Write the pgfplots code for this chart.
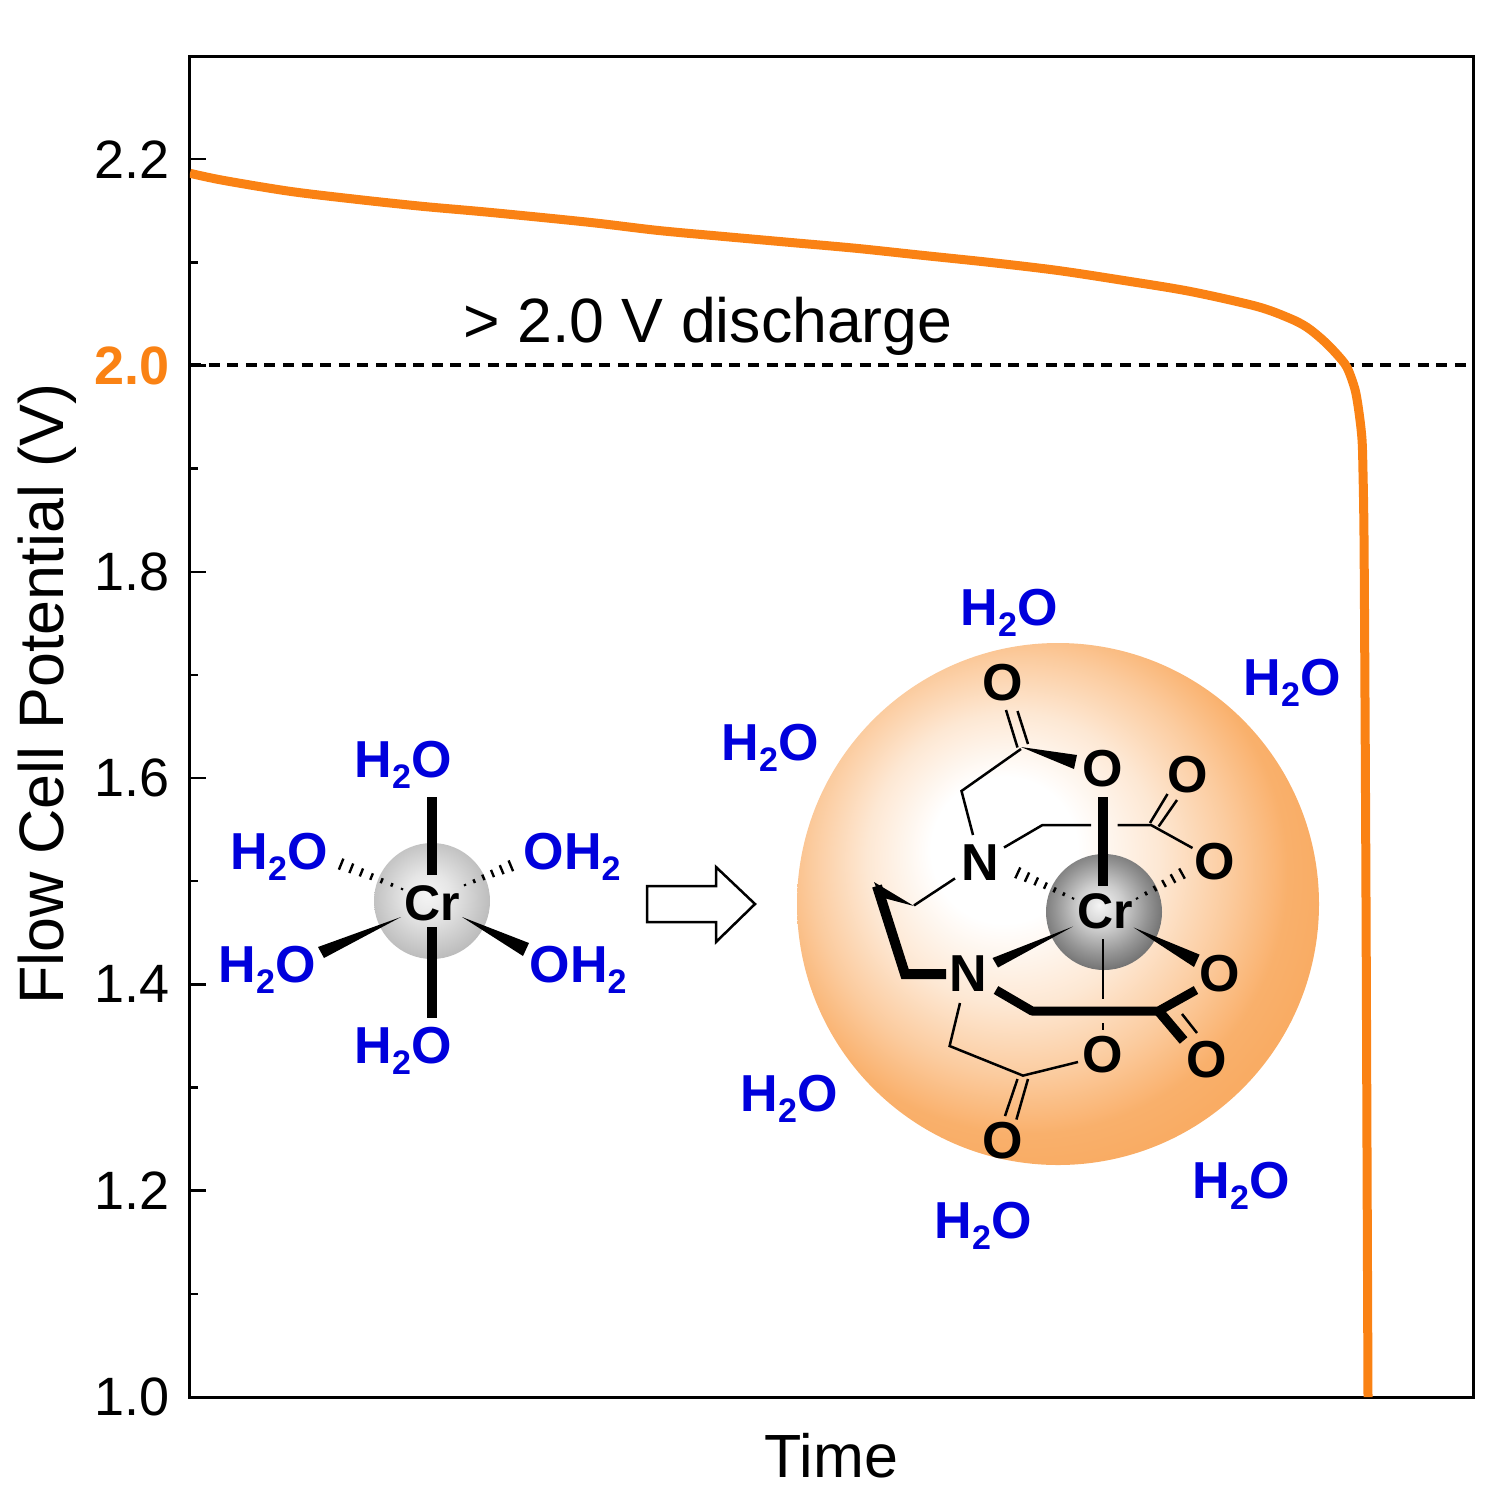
\documentclass[border=0pt]{standalone}
\usepackage{fontspec}
\usepackage{pgfplots}
\pgfplotsset{compat=1.18}
\usetikzlibrary{calc}
\setmainfont{Liberation Sans}

\definecolor{curve}{RGB}{250,130,20}
\definecolor{wat}{RGB}{0,0,220}
\definecolor{ballrim}{RGB}{249,172,100}

% shadings for the two kinds of sphere
\pgfdeclareradialshading{orangeball}{\pgfpoint{-6bp}{6bp}}{%
  color(0bp)=(white); color(7bp)=(white); color(14bp)=(ballrim!28!white);
  color(20bp)=(ballrim!62!white); color(25bp)=(ballrim!95!white); color(28bp)=(ballrim); color(50bp)=(ballrim)}
\pgfdeclareradialshading{lightball}{\pgfpoint{-2bp}{3bp}}{%
  color(0bp)=(white!96!black); color(10bp)=(white!90!black);
  color(20bp)=(white!80!black); color(28bp)=(white!72!black); color(50bp)=(white!72!black)}
\pgfdeclareradialshading{darkball}{\pgfpoint{-2bp}{3bp}}{%
  color(0bp)=(white!96!black); color(10bp)=(white!80!black);
  color(20bp)=(white!58!black); color(28bp)=(white!42!black); color(50bp)=(white!42!black)}

\newcommand{\water}{H\raisebox{-.22em}{\fontsize{17}{17}\selectfont 2}O}
\newcommand{\hydro}{OH\raisebox{-.22em}{\fontsize{17}{17}\selectfont 2}}
% narrow end, wide end, stripes, half width at the wide end (pt)
\newcommand{\hashbond}[6]{%
  \foreach \i in {0,...,#5}{%
    \pgfmathsetmacro{\tt}{\i/#5}%
    \pgfmathsetmacro{\ll}{#6*(0.15+0.85*\tt)}%
    \draw[line width=1.2pt,black] ($(#1,#2)!\tt!(#3,#4)!\ll pt!90:(#3,#4)$) -- ($(#1,#2)!\tt!(#3,#4)!\ll pt!-90:(#3,#4)$);
  }}

\pgfplotstableread{
x y
190 2.1863
223 2.1795
290 2.1688
357 2.1610
423 2.1542
490 2.1484
590 2.1387
657 2.1310
723 2.1251
790 2.1193
857 2.1135
923 2.1067
990 2.0999
1057 2.0922
1123 2.0825
1190 2.0718
1257 2.0572
1290 2.0456
1307 2.0370
1323 2.0245
1337 2.0107
1347 1.9981
1355 1.9767
1359 1.9544
1362 1.9282
1363 1.8962
1364 1.8341
1365 1.676
1366 1.482
1367 1.239
1368 1.000
}\dischargecurve

\begin{document}
\begin{tikzpicture}
\path[use as bounding box] (0,0) rectangle (750pt,-750pt);
\begin{axis}[
    at={(95pt,-698.5pt)}, anchor=south west,
    scale only axis, width=641.5pt, height=670.5pt,
    xmin=190, xmax=1473, ymin=1, ymax=2.3,
    axis line style={line width=1.5pt},
    xtick=\empty,
    ytick={1.0,1.2,1.4,1.6,1.8,2.0,2.2},
    yticklabels={1.0,1.2,1.4,1.6,1.8,\textbf{\textcolor{curve}{2.0}},2.2},
    minor y tick num=1,
    ytick pos=left, tick align=inside,
    major tick length=8pt, minor tick length=4pt,
    tick style={line width=1.25pt,black},
    yticklabel style={font=\fontsize{27}{27}\selectfont,xshift=-6.5pt},
    xlabel={Time}, ylabel={Flow Cell Potential (V)},
    xlabel style={font=\fontsize{30.5}{30.5}\selectfont,at={(axis description cs:0.5,-0.0597)},anchor=base},
    ylabel style={font=\fontsize{31.4}{31.4}\selectfont,at={(axis description cs:-0.0985,0.524)},anchor=base},
]
\addplot[black,line width=2pt,dash pattern=on 5.5pt off 3.8pt] coordinates {(190,2) (1473,2)};
\addplot[curve,line width=4.5pt,smooth,tension=0.5] table[x=x,y=y] {\dischargecurve};
\end{axis}

\begin{scope}[x=0.5pt,y=-0.5pt]
\node[font=\fontsize{31.3}{31.3}\selectfont,anchor=base,inner sep=0pt] at (708,342) {> 2.0 V discharge};

% aqua complex
\shade[shading=lightball] (432,901) circle (29pt);
\draw[line width=5pt] (432,797) -- (432,875);
\draw[line width=5pt] (432,927) -- (432,1018);
\fill (401,917) -- (318,947) -- (324,958) -- cycle;
\fill (462,917) -- (529,943) -- (523,956) -- cycle;
\hashbond{402}{889}{331}{860}{7}{3.4}
\hashbond{465}{885}{520}{862}{6}{3.4}
\node[font=\fontsize{25}{25}\selectfont\bfseries,anchor=base,inner sep=0pt] at (432,920) {Cr};
\begin{scope}[every node/.style={font=\fontsize{26}{26}\selectfont\bfseries,text=wat,anchor=base,inner sep=0pt}]
\node at (403,777) {\water};
\node at (279,869) {\water};
\node at (572,869) {\hydro};
\node at (267,982) {\water};
\node at (578,982) {\hydro};
\node at (403,1063) {\water};
\end{scope}
\draw[line width=1.25pt,miter limit=10] (647,886) -- (716,886) -- (716,867) -- (755,904) -- (716,942) -- (716,922) -- (647,922) -- cycle;

% EDTA complex
\shade[shading=orangeball] (1058,904) circle (130.5pt);
\shade[shading=darkball] (1104,912) circle (29pt);
\begin{scope}[line width=1.25pt]
\draw (1006,710) -- (1017.5,747.5);
\draw (1017.5,711) -- (1028,744);
\draw (973,835) -- (961.5,791) -- (1021,749);
\draw (1004,847.5) -- (1042.5,825) -- (1091,825);
\draw (1117.5,825) -- (1151,825) -- (1192.5,848);
\draw (1150,823) -- (1167.5,794);
\draw (1158.6,826.5) -- (1177,800);
\draw (955,878.4) -- (914,905.4);
\draw (1103,939) -- (1103,998.5);
\draw (1103,1023) -- (1103,1030);
\draw (1103,1037) -- (1103,1041);
\draw (960,1003) -- (949.6,1046) -- (1023,1075.6) -- (1078,1062);
\draw (1017.5,1079) -- (1005,1116);
\draw (1028,1079) -- (1016.4,1119.5);
\draw (1182,1014) -- (1197,1033);
\end{scope}
\draw[line width=5pt] (1103,797) -- (1103,885.5);
\fill (1021,747) -- (1077,755) -- (1074,769) -- cycle;
\fill (914,906) -- (874,882) -- (880,897) -- cycle;
\draw[line width=5pt,line join=miter] (877,886) -- (905,974) -- (946,974);
\fill (1073,926.5) -- (992.5,958) -- (998,967.5) -- cycle;
\fill (1133.6,927.5) -- (1199.6,954.6) -- (1194,967) -- cycle;
\draw[line width=4.5pt,line join=round] (996,990) -- (1032,1011) -- (1158.6,1011) -- (1196,990);
\draw[line width=5pt] (1158.6,1011) -- (1183.6,1040.5);
\hashbond{1073}{898.4}{1008.6}{868.6}{7}{3.4}
\hashbond{1137}{898.4}{1191}{868.6}{6}{3.4}
\begin{scope}[every node/.style={font=\fontsize{26}{26}\selectfont\bfseries,inner sep=0pt}]
\node at (1002.5,683) {O};
\node at (1103,769) {O};
\node at (1188,775) {O};
\node at (1215,862) {O};
\node at (980,863) {N};
\node at (968,974) {N};
\node at (1220,974) {O};
\node at (1207,1060) {O};
\node at (1103,1055) {O};
\node at (1002.5,1140.5) {O};
\end{scope}
\node[font=\fontsize{25}{25}\selectfont\bfseries,anchor=base,inner sep=0pt] at (1105,928) {Cr};
\begin{scope}[every node/.style={font=\fontsize{26}{26}\selectfont\bfseries,text=wat,anchor=base,inner sep=0pt}]
\node at (1009,625) {\water};
\node at (1292,695) {\water};
\node at (770,760) {\water};
\node at (789,1111) {\water};
\node at (1241,1198) {\water};
\node at (983,1238) {\water};
\end{scope}
\end{scope}
\end{tikzpicture}
\end{document}
